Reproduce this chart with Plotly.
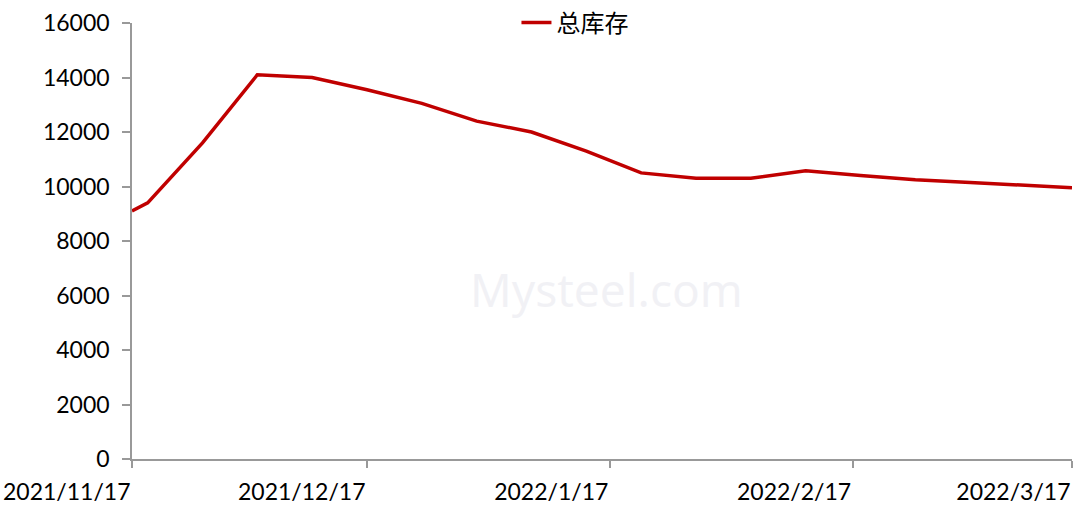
import plotly.graph_objects as go

dates = ["2021-11-17", "2021-11-19", "2021-11-26", "2021-12-03", "2021-12-10", "2021-12-17",
         "2021-12-24", "2021-12-31", "2022-01-07", "2022-01-14", "2022-01-21", "2022-01-28",
         "2022-02-04", "2022-02-11", "2022-02-18", "2022-02-25", "2022-03-04", "2022-03-11",
         "2022-03-17"]
total_inventory = [9100, 9400, 11600, 14100, 14000, 13550, 13050, 12400, 12000, 11300,
                   10500, 10300, 10300, 10580, 10400, 10250, 10150, 10050, 9950]
tick_dates = ["2021-11-17", "2021-12-17", "2022-01-17", "2022-02-17", "2022-03-17"]
tick_labels = ["2021/11/17", "2021/12/17", "2022/1/17", "2022/2/17", "2022/3/17"]
y_ticks = [0, 2000, 4000, 6000, 8000, 10000, 12000, 14000, 16000]
y_tick_labels = [str(v) for v in y_ticks]

fig = go.Figure()
fig.add_trace(go.Scatter(x=dates, y=total_inventory, mode="lines", name="总库存",
                         line=dict(color="#C00000", width=3.5)))

fig.add_annotation(text="Mysteel.com", x=0.505, y=0.39, xref="paper", yref="paper",
                   showarrow=False, font=dict(size=46, color="rgba(236,236,241,0.7)",
                                              family="Noto Sans"))

axis_font = dict(family="Lato, Carlito, Noto Sans", size=23, color="#000000")
fig.update_layout(
    width=1074, height=505,
    margin=dict(l=132, r=2, t=23, b=46, autoexpand=False),
    paper_bgcolor="white", plot_bgcolor="white",
    showlegend=True,
    legend=dict(orientation="h", x=0.409, y=1.0, xanchor="left", yanchor="middle",
                font=dict(family="Noto Sans CJK SC", size=24, color="#000000"),
                bgcolor="rgba(0,0,0,0)"),
    xaxis=dict(type="date", range=["2021-11-17", "2022-03-17"],
               tickvals=tick_dates, ticktext=tick_labels,
               ticks="outside", ticklen=7, tickcolor="#999999", tickwidth=1.5,
               showline=True, linecolor="#999999", linewidth=1.5,
               showgrid=False, zeroline=False, tickfont=axis_font, automargin=False,
               ticklabelposition="outside left", ticklabelstandoff=12,
               ticklabeloverflow="allow"),
    yaxis=dict(range=[0, 16000], tickvals=y_ticks, ticktext=y_tick_labels,
               ticks="outside", ticklen=8, tickcolor="#999999", tickwidth=1.5,
               showline=True, linecolor="#999999", linewidth=1.5,
               showgrid=False, zeroline=False, tickfont=axis_font, automargin=False,
               ticklabelstandoff=8),
)

fig.write_html("out.html", config={"displayModeBar": False},
               post_script="document.body.style.margin='0';document.body.style.overflow='hidden';")
